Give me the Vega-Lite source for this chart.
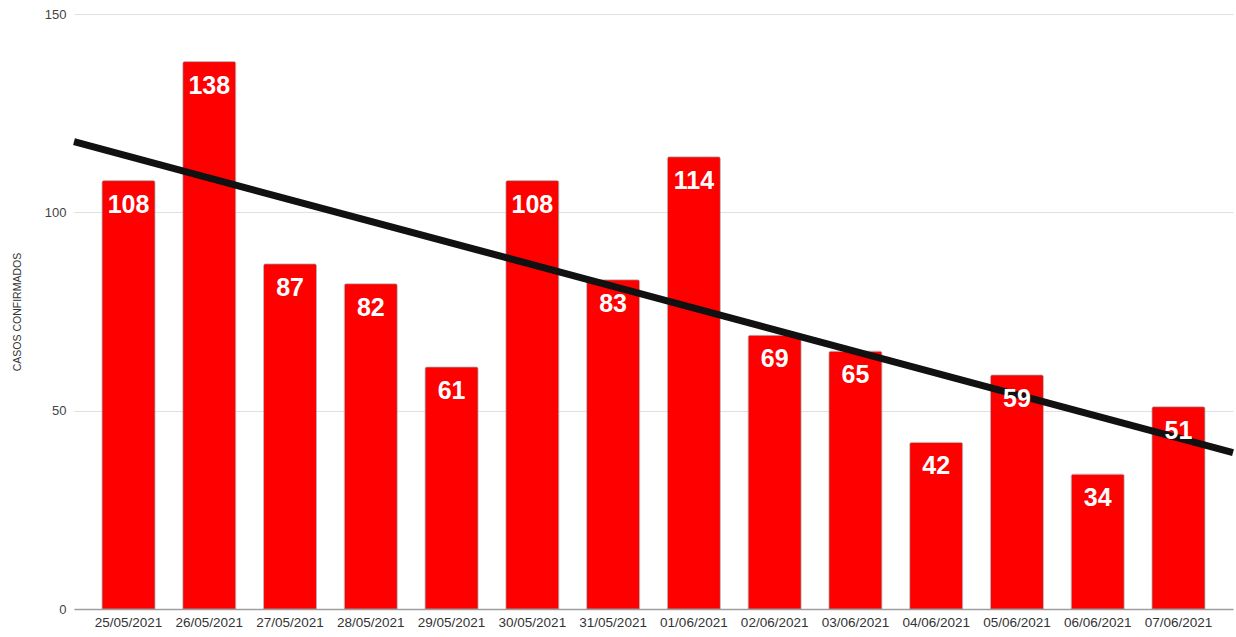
{
  "$schema": "https://vega.github.io/schema/vega-lite/v6.json",
  "autosize": {"type": "none"},
  "width": 1159,
  "height": 595,
  "padding": {"left": 74, "top": 14, "right": 3, "bottom": 28},
  "background": "white",
  "config": {"view": {"stroke": null}, "font": "Liberation Sans"},
  "data": {"values": [
    {"fecha": "25/05/2021", "casos": 108},
    {"fecha": "26/05/2021", "casos": 138},
    {"fecha": "27/05/2021", "casos": 87},
    {"fecha": "28/05/2021", "casos": 82},
    {"fecha": "29/05/2021", "casos": 61},
    {"fecha": "30/05/2021", "casos": 108},
    {"fecha": "31/05/2021", "casos": 83},
    {"fecha": "01/06/2021", "casos": 114},
    {"fecha": "02/06/2021", "casos": 69},
    {"fecha": "03/06/2021", "casos": 65},
    {"fecha": "04/06/2021", "casos": 42},
    {"fecha": "05/06/2021", "casos": 59},
    {"fecha": "06/06/2021", "casos": 34},
    {"fecha": "07/06/2021", "casos": 51}
  ]},
  "layer": [
    {
      "mark": {"type": "bar", "color": "#ff0000", "stroke": "#999999", "strokeWidth": 0.6, "cornerRadiusTopLeft": 2, "cornerRadiusTopRight": 2},
      "encoding": {
        "x": {"field": "fecha", "type": "nominal", "sort": null,
              "scale": {"type": "band", "paddingInner": 0.344, "paddingOuter": 0.347},
              "axis": {"title": null, "labelAngle": 0, "labelFontSize": 13.5, "labelColor": "#333333", "labelPadding": 6,
                       "ticks": false, "domainColor": "#9e9e9e", "domainWidth": 1.5}},
        "y": {"field": "casos", "type": "quantitative",
              "scale": {"domain": [0, 150], "nice": false},
              "axis": {"values": [0, 50, 100, 150], "title": "CASOS CONFIRMADOS", "titleFontSize": 10.5, "titleFontWeight": "normal",
                       "titleColor": "#333333", "titlePadding": 22, "labelFontSize": 13, "labelColor": "#444444", "labelPadding": 8,
                       "ticks": false, "domain": false, "gridColor": "#e0e0e0", "gridWidth": 1.2}}
      }
    },
    {
      "transform": [
        {"window": [{"op": "row_number", "as": "idx"}]},
        {"regression": "casos", "on": "idx", "extent": [0.325, 14.69]}
      ],
      "mark": {"type": "line", "color": "#111111", "strokeWidth": 7},
      "encoding": {
        "x": {"field": "idx", "type": "quantitative", "scale": {"domain": [0.325, 14.69], "nice": false, "zero": false}, "axis": null},
        "y": {"field": "casos", "type": "quantitative"}
      }
    },
    {
      "mark": {"type": "text", "color": "white", "fontWeight": "bold", "fontSize": 25, "baseline": "alphabetic", "dy": 32, "font": "Liberation Sans"},
      "encoding": {
        "x": {"field": "fecha", "type": "nominal", "sort": null, "bandPosition": 0.5,
              "scale": {"type": "band", "paddingInner": 0.344, "paddingOuter": 0.347}, "axis": null},
        "y": {"field": "casos", "type": "quantitative"},
        "text": {"field": "casos", "type": "quantitative"}
      }
    }
  ],
  "resolve": {"scale": {"x": "independent"}}
}
